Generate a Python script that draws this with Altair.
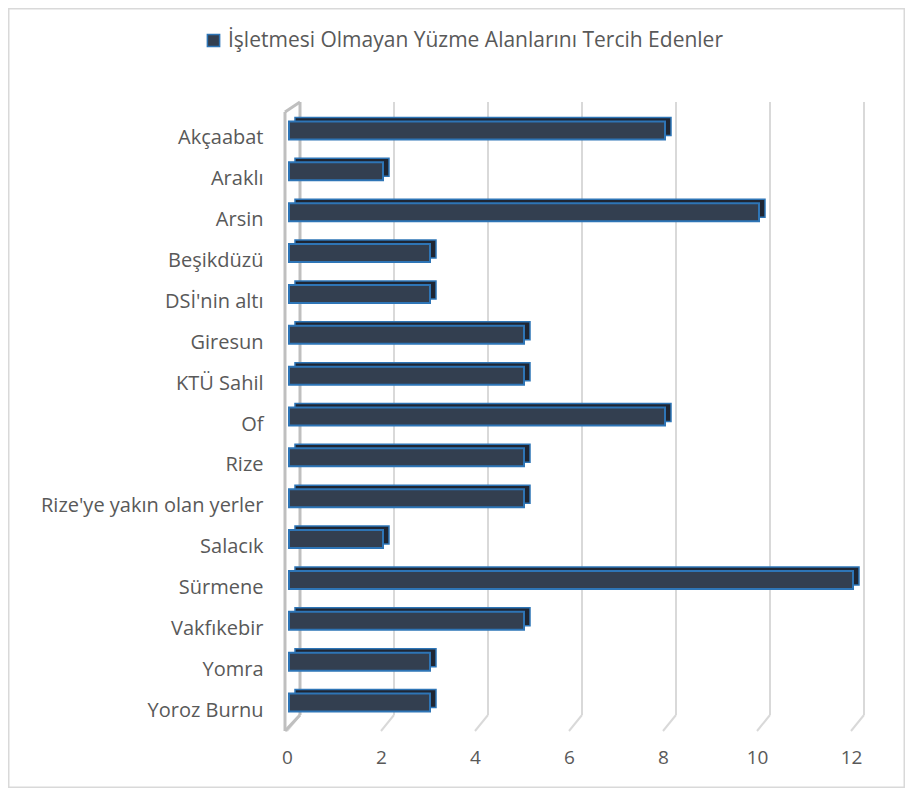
import altair as alt
import pandas as pd

categories = ["Akçaabat", "Araklı", "Arsin", "Beşikdüzü", "DSİ'nin altı", "Giresun",
              "KTÜ Sahil", "Of", "Rize", "Rize'ye yakın olan yerler", "Salacık",
              "Sürmene", "Vakfıkebir", "Yomra", "Yoroz Burnu"]
values = [8, 2, 10, 3, 3, 5, 5, 8, 5, 5, 2, 12, 5, 3, 3]
series_name = "İşletmesi Olmayan Yüzme Alanlarını Tercih Edenler"
ticks = [0, 2, 4, 6, 8, 10, 12]

W, H = 564, 613
PL, PT, PR, PB = 281, 110, 52, 57
FONT = "Open Sans"

df = pd.DataFrame({"cat": categories, "val": values, "series": [series_name] * len(values)})
tdf = pd.DataFrame({"tick": ticks})
zdf = pd.DataFrame({"tick": [0]})

xscale = alt.Scale(domain=[0, 12], nice=False, zero=True)
xaxis = alt.Axis(values=ticks, grid=False, domain=False, ticks=False, labelPadding=17,
                 labelFlush=False, labelOffset=-2,
                 labelFontSize=19, labelFont=FONT, labelColor="#595959")

grid = alt.Chart(tdf).mark_rule(color="#D9D9D9", strokeWidth=2, xOffset=11).encode(
    x=alt.X("tick:Q", scale=xscale, axis=xaxis, title=None),
    y=alt.value(-16), y2=alt.value(597))
diag = alt.Chart(tdf).mark_rule(color="#D9D9D9", strokeWidth=2, xOffset=11, x2Offset=-2).encode(
    x=alt.X("tick:Q", scale=xscale, axis=xaxis, title=None), x2="tick:Q",
    y=alt.value(597), y2=alt.value(613))
wall_back = alt.Chart(zdf).mark_rule(color="#BFBFBF", strokeWidth=3, xOffset=11).encode(
    x=alt.X("tick:Q", scale=xscale, axis=xaxis, title=None), y=alt.value(-16), y2=alt.value(597))
wall_front = alt.Chart(zdf).mark_rule(color="#BFBFBF", strokeWidth=3, xOffset=-4).encode(
    x=alt.X("tick:Q", scale=xscale, axis=xaxis, title=None), y=alt.value(-6), y2=alt.value(613))
wall_top = alt.Chart(zdf).mark_rule(color="#BFBFBF", strokeWidth=3, xOffset=-4, x2Offset=11).encode(
    x=alt.X("tick:Q", scale=xscale, axis=xaxis, title=None), x2="tick:Q", y=alt.value(-6), y2=alt.value(-16))
wall_bot = alt.Chart(zdf).mark_rule(color="#BFBFBF", strokeWidth=3, xOffset=11, x2Offset=-4).encode(
    x=alt.X("tick:Q", scale=xscale, axis=xaxis, title=None), x2="tick:Q", y=alt.value(597), y2=alt.value(613))

yenc = alt.Y("cat:N", sort=categories, title=None,
             scale=alt.Scale(paddingInner=0.5, paddingOuter=0.25),
             axis=alt.Axis(domain=False, ticks=False, labelPadding=26, labelFontSize=20,
                           labelFont=FONT, labelColor="#595959", labelLimit=300))

back_bar = alt.Chart(df).mark_bar(size=18, xOffset=6, x2Offset=6, yOffset=-12, y2Offset=-12,
                                  fill="#1F2633", stroke="#2E75B6", strokeWidth=1.5).encode(
    x=alt.X("val:Q", scale=xscale, axis=xaxis, title=None), y=yenc)

front_bar = alt.Chart(df).mark_bar(size=18, yOffset=-8, y2Offset=-8, stroke="#2E75B6",
                                   strokeWidth=2).encode(
    x=alt.X("val:Q", scale=xscale, axis=xaxis, title=None),
    y=yenc,
    color=alt.Color("series:N", scale=alt.Scale(range=["#333F50"]), title=None,
                    legend=alt.Legend(orient="none", legendX=-86, legendY=-88,
                                      symbolType="square", symbolSize=150,
                                      symbolStrokeColor="#2E75B6", symbolStrokeWidth=1.5,
                                      labelFontSize=21, labelFont=FONT, labelColor="#595959",
                                      labelLimit=700, symbolOpacity=1)))

border = alt.Chart(zdf).mark_rect(fill=None, stroke="#D9D9D9", strokeWidth=1.5).encode(
    x=alt.value(-PL + 0.75), x2=alt.value(W + PR - 0.75),
    y=alt.value(-PT + 0.75), y2=alt.value(H + PB - 0.75))

chart = alt.layer(grid, diag, wall_back, wall_front, wall_top, wall_bot, back_bar, front_bar, border).properties(
    width=W, height=H,
    autosize=alt.AutoSizeParams(type="none"),
    padding={"left": PL, "top": PT, "right": PR, "bottom": PB},
    background="white",
).configure_view(stroke=None)

chart.save("out.html", embed_options={"renderer": "svg", "actions": False})
